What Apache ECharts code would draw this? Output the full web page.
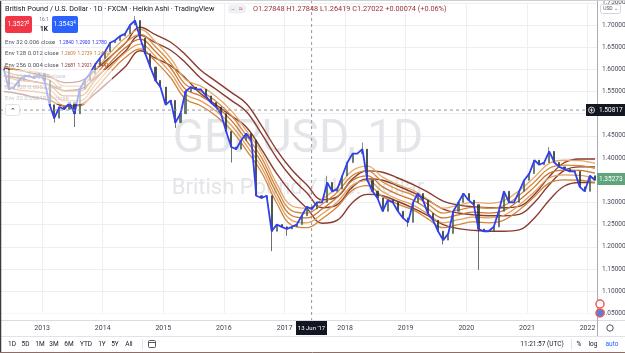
<!DOCTYPE html>
<html>
<head>
<meta charset="utf-8">
<script src="https://cdn.jsdelivr.net/npm/echarts@6/dist/echarts.min.js"></script>
<style>
  html, body { margin: 0; padding: 0; background: #fff; }
  #main { width: 625px; height: 353px; }
</style>
</head>
<body>
<div id="main"></div>
<script>
// monthly closes (Heikin Ashi / Env 32 line), May 2012 .. Feb 2022
const firstMonth = '2012-05';
const closes = [
  1.600, 1.555, 1.560, 1.575, 1.585, 1.585, 1.580, 1.590,
  1.575, 1.520, 1.490, 1.515, 1.510, 1.525, 1.500, 1.555, 1.575, 1.590, 1.610, 1.625,
  1.640, 1.660, 1.665, 1.675, 1.680, 1.700, 1.710, 1.670, 1.635, 1.605, 1.575, 1.560,
  1.520, 1.530, 1.480, 1.500, 1.550, 1.560, 1.555, 1.555, 1.540, 1.525, 1.515, 1.500,
  1.460, 1.425, 1.420, 1.440, 1.455, 1.440, 1.315, 1.310, 1.315, 1.235, 1.250, 1.245,
  1.240, 1.245, 1.250, 1.270, 1.290, 1.285, 1.300, 1.300, 1.345, 1.325, 1.330, 1.360,
  1.390, 1.410, 1.410, 1.420, 1.350, 1.325, 1.310, 1.280, 1.305, 1.300, 1.280, 1.265,
  1.255, 1.300, 1.320, 1.305, 1.275, 1.260, 1.235, 1.215, 1.230, 1.280, 1.300, 1.320,
  1.305, 1.295, 1.240, 1.235, 1.235, 1.245, 1.280, 1.325, 1.300, 1.300, 1.325, 1.350,
  1.365, 1.395, 1.385, 1.390, 1.415, 1.390, 1.380, 1.375, 1.370, 1.370, 1.335, 1.325,
  1.360, 1.350
];
// visible wick extremes
const wickMonths = ['2013-03', '2013-07', '2015-03', '2016-02', '2016-10', '2017-01', '2019-01', '2019-08', '2020-03'];
const wickLows = [1.480, 1.470, 1.468, 1.390, 1.190, 1.225, 1.245, 1.205, 1.148];
const peakMonths = ['2014-07', '2017-09', '2018-04', '2021-05'];
const peakHighs = [1.720, 1.360, 1.435, 1.425];

// envelope baselines, read every quarter
const bandMonths = [
  '2012-05', '2012-08', '2012-11', '2013-02', '2013-05', '2013-08', '2013-11', '2014-02', '2014-05', '2014-08',
  '2014-11', '2015-02', '2015-05', '2015-08', '2015-11', '2016-02', '2016-05', '2016-08', '2016-11', '2017-02',
  '2017-05', '2017-08', '2017-11', '2018-02', '2018-05', '2018-08', '2018-11', '2019-02', '2019-05', '2019-08',
  '2019-11', '2020-02', '2020-05', '2020-08', '2020-11', '2021-02', '2021-05', '2021-08', '2021-11', '2022-02'
];
const orangeMid = [
  1.585, 1.575, 1.572, 1.565, 1.540, 1.540, 1.575, 1.615, 1.648, 1.668,
  1.640, 1.603, 1.555, 1.540, 1.517, 1.485, 1.440, 1.390, 1.320, 1.270,
  1.265, 1.285, 1.312, 1.350, 1.360, 1.335, 1.318, 1.305, 1.285, 1.265,
  1.272, 1.278, 1.276, 1.282, 1.305, 1.335, 1.366, 1.373, 1.372, 1.366
];
const brownMid = [
  1.585, 1.580, 1.572, 1.565, 1.552, 1.555, 1.580, 1.610, 1.640, 1.677,
  1.660, 1.643, 1.615, 1.580, 1.555, 1.530, 1.505, 1.455, 1.400, 1.355,
  1.322, 1.288, 1.295, 1.335, 1.353, 1.350, 1.337, 1.322, 1.305, 1.285,
  1.276, 1.272, 1.270, 1.270, 1.273, 1.300, 1.340, 1.372, 1.380, 1.380
];
const orangeOffsets = [0.022, 0.011, 0, -0.011, -0.022];
const brownOffsets = [0.018, 0, -0.035];

const priceTicks = { min: 1.05, max: 1.75, step: 0.05 };
const crossPrice = 1.50817;
const lastPrice = 1.35273;

const FONT = 'Roboto, "Noto Sans", sans-serif';

function monthTime(s) {
  const [y, m] = s.split('-').map(Number);
  return Date.UTC(y, m - 1, 15);
}
const closeMonths = [];
{
  let [y, m] = firstMonth.split('-').map(Number);
  for (let i = 0; i < closes.length; i++) {
    closeMonths.push(y + '-' + String(m).padStart(2, '0'));
    m++; if (m > 12) { m = 1; y++; }
  }
}

const candles = closes.map((c, i) => {
  const o = i ? closes[i - 1] : c;
  let lo = Math.min(o, c), hi = Math.max(o, c);
  const w = wickMonths.indexOf(closeMonths[i]);
  if (w >= 0) lo = Math.min(lo, wickLows[w]);
  const p = peakMonths.indexOf(closeMonths[i]);
  if (p >= 0) hi = Math.max(hi, peakHighs[p]);
  return [monthTime(closeMonths[i]), o, c, lo, hi];
});

const series = [];
brownOffsets.forEach(off => {
  series.push({
    type: 'line', silent: true, symbol: 'none', smooth: 0.4, z: 2,
    data: bandMonths.map((m, i) => [monthTime(m), +(brownMid[i] + off).toFixed(4)]),
    lineStyle: { color: '#8d3a2f', width: 1.4 }
  });
});
const orangeColors = ['#e4a868', '#d58a3e', '#c9772f', '#e0a060', '#d3843a'];
orangeOffsets.forEach((off, k) => {
  series.push({
    type: 'line', silent: true, symbol: 'none', smooth: 0.4, z: 3,
    data: bandMonths.map((m, i) => [monthTime(m), +(orangeMid[i] + off).toFixed(4)]),
    lineStyle: { color: orangeColors[k], width: 1.3 }
  });
});
series.push({
  type: 'candlestick', silent: true, z: 4, barWidth: 1.6,
  data: candles,
  itemStyle: { color: '#4a5f50', color0: '#26302a', borderColor: '#4a5f50', borderColor0: '#26302a', borderWidth: 0.8, opacity: 0.85 }
});
series.push({
  type: 'line', silent: true, symbol: 'none', z: 5,
  data: closes.map((c, i) => [monthTime(closeMonths[i]), c]),
  lineStyle: { color: '#2f3ff2', width: 1.8 }
});

const chart = echarts.init(document.getElementById('main'));
chart.setOption({
  animation: false,
  grid: { left: 0, right: 28, top: 2.8, bottom: 39.7 },
  xAxis: {
    type: 'time',
    min: Date.UTC(2012, 3, 22),
    max: Date.UTC(2022, 1, 27),
    splitNumber: 10,
    minInterval: 365 * 24 * 3600 * 1000,
    axisLine: { show: false },
    axisTick: { show: false },
    splitLine: { show: true, lineStyle: { color: '#eceff3', width: 1 } },
    axisLabel: {
      margin: 11, fontSize: 7, color: '#3b3e47', fontFamily: FONT,
      showMinLabel: false, showMaxLabel: false,
      formatter: v => {
        const d = new Date(v);
        return (d.getMonth() === 0 && d.getDate() === 1) ? String(d.getFullYear()) : '';
      }
    }
  },
  yAxis: {
    type: 'value', position: 'right',
    min: priceTicks.min, max: priceTicks.max, interval: priceTicks.step,
    axisLine: { show: false },
    axisTick: { show: false },
    splitLine: { show: true, lineStyle: { color: '#eceff3', width: 1 } },
    axisLabel: { show: false }
  },
  series: series
});

// pixel positions through the chart's own scales
const [crossX, crossY] = chart.convertToPixel({ xAxisIndex: 0, yAxisIndex: 0 }, [Date.UTC(2017, 5, 13), crossPrice]);
const lastY = chart.convertToPixel({ yAxisIndex: 0 }, lastPrice);

function txt(s, x, y, size, color, align, extra) {
  extra = extra || {};
  return {
    type: 'text', z: extra.z || 20, silent: true,
    x: x, y: y, scaleX: extra.sx || 1,
    style: {
      text: s, x: 0, y: 0, fill: color || '#131722',
      font: (extra.weight ? extra.weight + ' ' : '') + size + 'px ' + FONT,
      textAlign: align || 'left', textVerticalAlign: 'middle',
      align: align || 'left', verticalAlign: 'middle'
    }
  };
}
function rect(x, y, w, h, fill, stroke, r, z) {
  return { type: 'rect', z: z || 15, silent: true, shape: { x: x, y: y, width: w, height: h, r: r || 0 },
           style: { fill: fill || 'none', stroke: stroke || 'none', lineWidth: 1 } };
}
function line(x1, y1, x2, y2, color, dash, z, w) {
  return { type: 'line', z: z || 15, silent: true, shape: { x1: x1, y1: y1, x2: x2, y2: y2 },
           style: { stroke: color, lineWidth: w || 1, lineDash: dash || null } };
}

const g = [];
// watermark
g.push(txt('GBPUSD, 1D', 298, 140, 46, '#e4e5e8', 'center', { z: 1 }));
g.push(txt('British Pound / U.S. Dollar', 298, 188, 22, '#e4e5e8', 'center', { z: 1 }));

// fade behind hidden legend rows
g.push(rect(0, 70, 112, 34, 'rgba(255,255,255,0.6)', null, 0, 12));

// header
g.push(txt('British Pound / U.S. Dollar · 1D · FXCM · Heikin Ashi · TradingView', 5, 9, 8, '#131722', 'left', { sx: 0.905 }));
g.push(rect(228, 4.5, 18, 9, '#eef0f4', null, 4));
g.push(txt('–', 233, 9, 6, '#787b86', 'center'));
g.push(txt('≈', 241, 9, 7, '#e0507a', 'center'));
g.push(txt('O1.27848 H1.27848 L1.26419 C1.27022 +0.00074 (+0.06%)', 253, 9, 7.3, '#9b2f2f'));

g.push(rect(5, 16, 27, 17, '#f23645', null, 2));
g.push(txt('1.3527', 17.5, 24.5, 6.5, '#fff', 'center'));
g.push(txt('3', 28, 23, 4.5, '#fff', 'center'));
g.push(txt('16.1', 44, 19.5, 5, '#787b86', 'center'));
g.push(txt('1K', 44, 29, 6.5, '#131722', 'center', { weight: 'bold' }));
g.push(rect(52, 16, 26, 17, '#2962ff', null, 2));
g.push(txt('1.3543', 63.5, 24.5, 6.5, '#fff', 'center'));
g.push(txt('4', 74.5, 23, 4.5, '#fff', 'center'));

// legends
const LF = 6, VF = 6, VS = { sx: 0.8 };
g.push(txt('Env 32 0.006 close', 5, 42, LF, '#50535e'));
g.push(txt('1.2840', 59, 42, VF, '#2a2ef0', 'left', VS));
g.push(txt('1.2900', 75.5, 42, VF, '#2a2ef0', 'left', VS));
g.push(txt('1.2780', 92, 42, VF, '#2a2ef0', 'left', VS));
g.push(txt('Env 128 0.012 close', 5, 53.5, LF, '#50535e'));
g.push(txt('1.2609', 61, 53.5, VF, '#c8782e', 'left', VS));
g.push(txt('1.2739', 77.5, 53.5, VF, '#c8782e', 'left', VS));
g.push(txt('1.2489', 94, 53.5, VF, '#c8782e', 'left', VS));
g.push(txt('Env 256 0.004 close', 5, 65, LF, '#50535e'));
g.push(txt('1.2681', 61, 65, VF, '#8e2f2f', 'left', VS));
g.push(txt('1.2921', 77.5, 65, VF, '#8e2f2f', 'left', VS));
g.push(txt('1.2441', 94, 65, VF, '#8e2f2f', 'left', VS));
g.push(txt('Env 256 0.00125 close', 5, 76, LF, '#c9c9cc'));
g.push(txt('Env 128 0.0057 close', 5, 87, LF, '#c9c9cc'));
g.push(txt('Env 32 0.0001833 close', 5, 98, LF, '#c9c9cc'));
g.push(rect(5.5, 104.5, 14, 11, '#fff', '#e0e3eb', 2));
g.push(txt('⌃', 12.5, 111, 7, '#131722', 'center'));

// crosshair
g.push(line(crossX, 0, crossX, 320, '#9598a1', [3, 3], 14));
g.push(line(0, crossY, 587, crossY, '#9598a1', [3, 3], 14));

// frame and separators
g.push(rect(597, 0, 28, 336, '#fff', null, 0, 13));
g.push(rect(0, 313.5, 597, 6.5, '#fff', null, 0, 13));
g.push(line(0, 320.5, 625, 320.5, '#d9dce3', null, 16));
g.push(line(0, 336.5, 625, 336.5, '#e0e3eb', null, 16));
g.push(line(597.5, 0, 597.5, 336, '#a9acb4', null, 16));
g.push(line(0.5, 0, 0.5, 353, '#3a3a3a', null, 30, 1.5));
g.push(line(0, 352.5, 625, 352.5, '#8c6e66', null, 30));
g.push(line(0, 0.5, 625, 0.5, '#d0d0d0', null, 30));

// price axis labels from the axis scale
for (let v = priceTicks.min; v <= priceTicks.max + 1e-9; v += priceTicks.step) {
  const py = chart.convertToPixel({ yAxisIndex: 0 }, v);
  g.push(txt(v.toFixed(5), 602, py, 6.5, '#4a4e59', 'left', { z: 17 }));
}
g.push(rect(600.5, 4.5, 20, 9, '#fff', '#d1d4dc', 2, 18));
g.push(txt('USD ⌄', 610.5, 9, 5, '#50535e', 'center', { z: 19 }));
g.push(rect(586, crossY - 6, 39, 12, '#131722', null, 0, 18));
g.push({ type: 'circle', z: 19, silent: true, shape: { cx: 591.5, cy: crossY, r: 3 }, style: { fill: 'none', stroke: '#fff', lineWidth: 0.8 } });
g.push(line(589.8, crossY, 593.2, crossY, '#fff', null, 19, 0.8));
g.push(line(591.5, crossY - 1.7, 591.5, crossY + 1.7, '#fff', null, 19, 0.8));
g.push(txt(crossPrice.toFixed(5), 599, crossY, 6.5, '#fff', 'left', { z: 19 }));
g.push(rect(597, lastY - 6, 28, 12, '#5fa57c', null, 0, 18));
g.push(txt(lastPrice.toFixed(5), 599, lastY, 6.5, '#fff', 'left', { z: 19 }));

// flag icons near bottom of the price axis
g.push({ type: 'circle', z: 18, silent: true, shape: { cx: 600, cy: 304, r: 4 }, style: { fill: '#fff', stroke: '#f05a5a', lineWidth: 1.5 } });
g.push({ type: 'circle', z: 18, silent: true, shape: { cx: 600, cy: 313, r: 4 }, style: { fill: '#5a7fd8', stroke: '#f05a5a', lineWidth: 1.5 } });

// date axis crosshair label and gear
g.push(rect(296, 321, 31, 14, '#131722', null, 0, 18));
g.push(txt("13 Jun '17", 311.5, 328, 6, '#fff', 'center', { z: 19 }));
g.push({ type: 'circle', z: 18, silent: true, shape: { cx: 610, cy: 328, r: 3.2 }, style: { fill: 'none', stroke: '#50535e', lineWidth: 1 } });

// bottom toolbar
[['1D', 12], ['5D', 25.5], ['1M', 40], ['3M', 54], ['6M', 69], ['YTD', 86], ['1Y', 102], ['5Y', 115], ['All', 129]]
  .forEach(([s, x]) => g.push(txt(s, x, 344.5, 6.5, '#131722', 'center')));
g.push(line(142.5, 339, 142.5, 350, '#e0e3eb', null, 16));
g.push(rect(148.5, 340.5, 7, 7, 'none', '#50535e', 1, 16));
g.push(line(148.5, 342.5, 155.5, 342.5, '#50535e', null, 16));
g.push(txt('11:21:57 (UTC)', 542, 344.5, 6.5, '#131722', 'center'));
g.push(line(571.5, 339, 571.5, 350, '#e0e3eb', null, 16));
g.push(txt('%', 579, 344.5, 6.5, '#131722', 'center'));
g.push(txt('log', 593, 344.5, 6.5, '#131722', 'center'));
g.push(txt('auto', 612, 344.5, 6.5, '#2962ff', 'center'));

chart.setOption({ graphic: { elements: g } });
</script>
</body>
</html>
